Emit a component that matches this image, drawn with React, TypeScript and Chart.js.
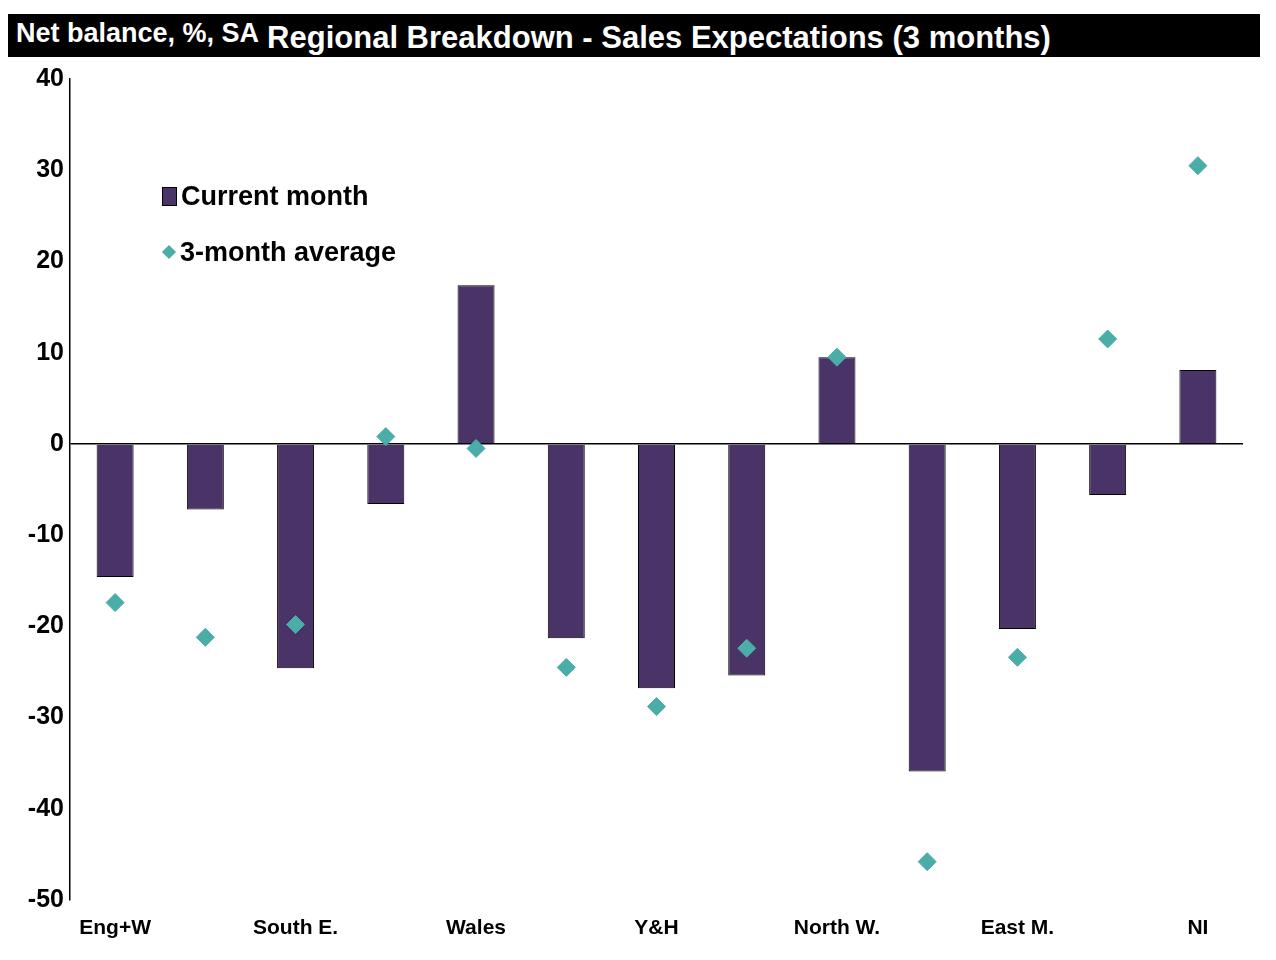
import React, { useEffect, useRef } from "react";
import { Chart, registerables } from "chart.js";

Chart.register(...registerables);

const categories = ["Eng+W", "Lon", "South E.", "East A.", "Wales", "South W.", "Y&H", "North", "North W.", "West M.", "East M.", "Scot", "NI"];
const currentMonth = [-14.6, -7.2, -24.6, -6.6, 17.4, -21.3, -26.8, -25.4, 9.5, -35.9, -20.3, -5.6, 8.1];
const threeMonthAvg = [-17.4, -21.2, -19.8, 0.8, -0.5, -24.5, -28.8, -22.4, 9.5, -45.8, -23.4, 11.5, 30.5];

const FONT = "'Liberation Sans Narrow', 'Arial Narrow', 'Liberation Sans', Arial, sans-serif";
const BAR = "#4a3366";
const DIAMOND = "#4aada8";

const App = () => {
  const canvasRef = useRef<HTMLCanvasElement>(null);
  const chartRef = useRef<Chart | null>(null);

  useEffect(() => {
    if (!canvasRef.current) return;
    chartRef.current?.destroy();
    chartRef.current = new Chart(canvasRef.current, {
      type: "bar",
      data: {
        labels: categories,
        datasets: [
          {
            type: "scatter" as any,
            label: "3-month average",
            data: threeMonthAvg as any,
            pointStyle: "rectRot",
            pointRadius: 9,
            backgroundColor: DIAMOND,
            borderColor: DIAMOND,
            showLine: false,
            order: 0,
          },
          {
            label: "Current month",
            data: currentMonth,
            backgroundColor: BAR,
            borderColor: "#000",
            borderWidth: 1,
            barPercentage: 0.41,
            categoryPercentage: 1,
            order: 1,
          },
        ],
      },
      options: {
        responsive: true,
        maintainAspectRatio: false,
        animation: false,
        layout: { padding: { top: 79, right: 33, left: 8, bottom: 0 } },
        plugins: { legend: { display: false }, tooltip: { enabled: false } },
        scales: {
          x: {
            type: "category",
            grid: { display: false },
            border: { display: false },
            ticks: { color: "#000", font: { family: FONT, size: 21, weight: "bold" }, padding: 8, maxRotation: 0 },
            afterFit: (s: any) => { s.height = 60; },
          },
          y: {
            min: -50,
            max: 40,
            ticks: { stepSize: 10, color: "#000", font: { family: FONT, size: 25, weight: "bold" }, padding: 6 },
            grid: {
              drawTicks: false,
              color: (c: any) => (c.tick && c.tick.value === 0 ? "#000" : "rgba(0,0,0,0)"),
              lineWidth: 1.5,
            },
            border: { display: true, color: "#000", width: 1.5 },
            afterFit: (s: any) => { s.width = 62; },
          },
        },
      },
    });
    return () => { chartRef.current?.destroy(); };
  }, []);

  return (
    <div style={{ position: "absolute", left: 0, top: 0, width: 1276, height: 960, background: "#fff", fontFamily: FONT }}>
      <div style={{ position: "absolute", left: 8, top: 14, width: 1252, height: 43, background: "#000", color: "#fff", fontWeight: "bold" }}>
        <span style={{ position: "absolute", left: 8, top: 4, fontSize: 27 }}>Net balance, %, SA</span>
        <span style={{ position: "absolute", left: 0, right: 0, top: 6, textAlign: "center", fontSize: 31, paddingLeft: 50 }}>
          Regional Breakdown - Sales Expectations (3 months)
        </span>
      </div>
      <canvas ref={canvasRef} style={{ position: "absolute", left: 0, top: 0, width: 1276, height: 960 }} />
      <div style={{ position: "absolute", left: 162, top: 180, fontSize: 27, fontWeight: "bold", color: "#000" }}>
        <div style={{ display: "flex", alignItems: "center", height: 32 }}>
          <span style={{ display: "inline-block", width: 13, height: 17, background: BAR, border: "1px solid #000", marginRight: 4 }} />
          Current month
        </div>
        <div style={{ display: "flex", alignItems: "center", height: 32, marginTop: 24 }}>
          <span style={{ display: "inline-block", width: 10, height: 10, background: DIAMOND, transform: "rotate(45deg)", margin: "0 6px 0 2px" }} />
          3-month average
        </div>
      </div>
    </div>
  );
};

export default App;
